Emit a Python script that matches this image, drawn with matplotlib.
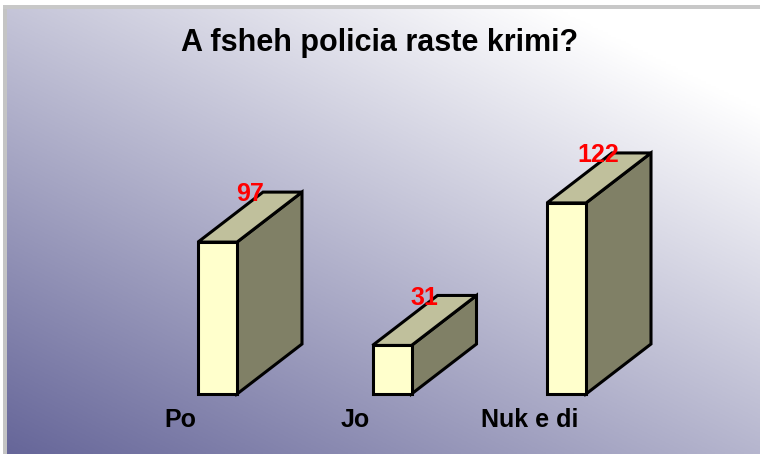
import numpy as np
import matplotlib.pyplot as plt
from matplotlib.patches import Polygon, Rectangle

categories = ["Po", "Jo", "Nuk e di"]
values = [97, 31, 122]
title = "A fsheh policia raste krimi?"

W, H = 760, 454
fig = plt.figure(figsize=(W / 100, H / 100), dpi=100, facecolor="white")
plt.rcParams["font.family"] = ["Liberation Sans", "DejaVu Sans"]

# spreadsheet-like grey strips at top and left
fig.patches.append(Rectangle((3 / W, 0), 4 / W, (H - 5) / H, transform=fig.transFigure,
                             facecolor="#c4c4c4", edgecolor="none"))
fig.patches.append(Rectangle((3 / W, (H - 9) / H), (W - 3) / W, 4 / H, transform=fig.transFigure,
                             facecolor="#c8c8c8", edgecolor="none"))

# gradient background
bg = fig.add_axes([7 / W, 0, (W - 7) / W, (H - 9) / H])
bg.set_axis_off()
nx, ny = 300, 200
u = np.linspace(0, 1, nx)[None, :]
v = np.linspace(0, 1, ny)[:, None]
s = np.clip(0.52 * u + 0.62 * v, 0, 1)
dark = np.array([102, 102, 153]) / 255
img = dark[None, None, :] * (1 - s[..., None]) + 1.0 * s[..., None]
bg.imshow(img, origin="lower", aspect="auto", extent=[0, 1, 0, 1])

# chart axes: x in category units, y in value units
ax = fig.add_axes([0, 0, 1, 1])
ax.set_axis_off()
ax.patch.set_alpha(0)
px_x = 174.5          # pixels per category
px_y = 1.566          # pixels per value unit
x0 = 217.5            # pixel of first bar centre
y0 = 60               # pixel of the zero line (from bottom)
ax.set_xlim(-x0 / px_x, (W - x0) / px_x)
ax.set_ylim(-y0 / px_y, (H - y0) / px_y)

bw = 39 / px_x
dx = 65 / px_x
dy = 50 / px_y
front_c, top_c, side_c = "#ffffcc", "#c0c09c", "#808066"

for i, (cat, val) in enumerate(zip(categories, values)):
    l, r = i - bw / 2, i + bw / 2
    front = [(l, 0), (r, 0), (r, val), (l, val)]
    top = [(l, val), (r, val), (r + dx, val + dy), (l + dx, val + dy)]
    side = [(r, 0), (r + dx, dy), (r + dx, val + dy), (r, val)]
    for pts, c in ((side, side_c), (top, top_c), (front, front_c)):
        ax.add_patch(Polygon(pts, closed=True, facecolor=c, edgecolor="black",
                             linewidth=2.2, joinstyle="miter"))
    ax.text(i + dx / 2 - 0.002, val + dy - 1.5, str(val), color="red", fontsize=18,
            fontweight="bold", ha="center", va="center")
    ax.text(i - 37 / px_x, -26 / px_y, cat, fontsize=18, fontweight="bold",
            ha="center", va="center")

fig.text(0.5, 1 - 43 / H, title, fontsize=22, fontweight="bold",
         ha="center", va="center")

fig.savefig("out.png", dpi=100)
